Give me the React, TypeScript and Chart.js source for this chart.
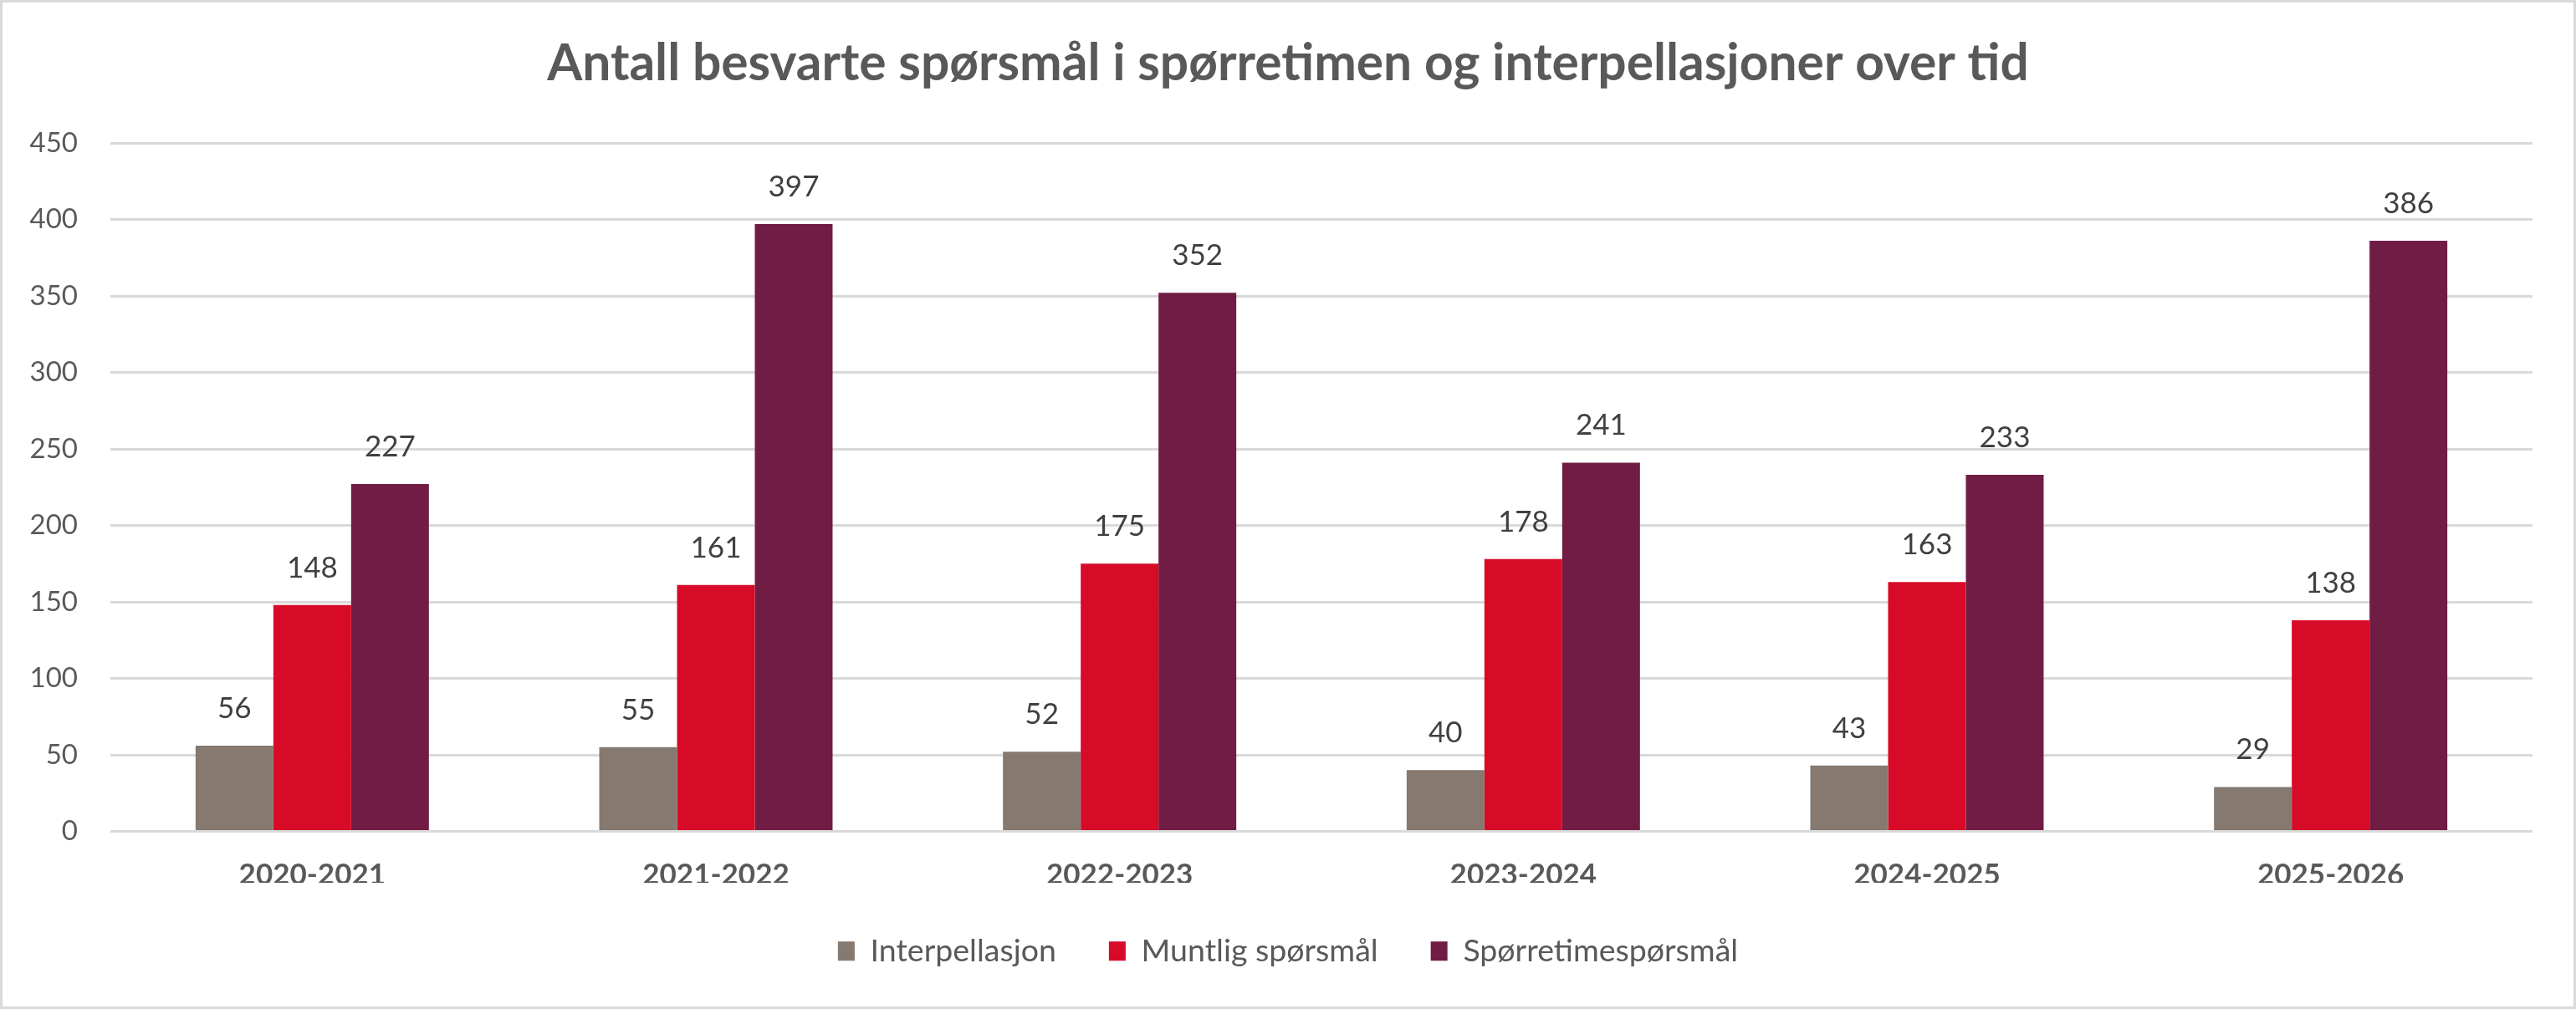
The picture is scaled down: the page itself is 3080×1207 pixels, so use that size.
import { useEffect, useRef } from "react";
import { Chart, registerables } from "chart.js";

Chart.register(...registerables);

// Sessions (stortingsår)
const seasons = ["2020-2021", "2021-2022", "2022-2023", "2023-2024", "2024-2025", "2025-2026"];

// Answered questions per session
const interpellasjon = [56, 55, 52, 40, 43, 29];
const muntligSporsmal = [148, 161, 175, 178, 163, 138];
const sporretimesporsmal = [227, 397, 352, 241, 233, 386];

const seriesNames = ["Interpellasjon", "Muntlig spørsmål", "Spørretimespørsmål"];
const seriesColors = ["#857970", "#D70A28", "#701C44"];

const yMax = 450;
const yStep = 50;

const FONT = "Lato, 'Open Sans', sans-serif";

// Value labels above each bar
const valueLabels = {
  id: "valueLabels",
  afterDatasetsDraw(chart: any) {
    const ctx = chart.ctx;
    ctx.save();
    ctx.font = `35px ${FONT}`;
    ctx.fillStyle = "#404040";
    ctx.textAlign = "center";
    ctx.textBaseline = "alphabetic";
    chart.data.datasets.forEach((ds: any, di: number) => {
      const meta = chart.getDatasetMeta(di);
      meta.data.forEach((bar: any, i: number) => {
        ctx.fillText(String(ds.data[i]), bar.x, bar.y - 33);
      });
    });
    ctx.restore();
  },
};

// Thin frame around the whole chart
const frame = {
  id: "frame",
  afterDraw(chart: any) {
    const ctx = chart.ctx;
    ctx.save();
    ctx.strokeStyle = "#D9D9D9";
    ctx.lineWidth = 3;
    ctx.strokeRect(1.5, 1.5, chart.width - 3, chart.height - 3);
    ctx.restore();
  },
};

export default function App() {
  const canvasRef = useRef<HTMLCanvasElement | null>(null);

  useEffect(() => {
    const canvas = canvasRef.current;
    if (!canvas) return;
    const chart = new Chart(canvas, {
      type: "bar",
      data: {
        labels: seasons,
        datasets: [interpellasjon, muntligSporsmal, sporretimesporsmal].map((data, i) => ({
          label: seriesNames[i],
          data,
          backgroundColor: seriesColors[i],
          borderWidth: 0,
          categoryPercentage: 0.578,
          barPercentage: 1,
        })),
      },
      options: {
        responsive: false,
        animation: false,
        devicePixelRatio: 1,
        layout: { padding: { left: 0, right: 0, top: 0, bottom: 40.5 } },
        plugins: {
          title: {
            display: true,
            text: "Antall besvarte spørsmål i spørretimen og interpellasjoner over tid",
            color: "#595959",
            font: { family: FONT, size: 60.5, weight: "bold", lineHeight: 1.2 },
            padding: { top: 40, bottom: 58.4 },
          },
          legend: {
            position: "bottom",
            labels: {
              color: "#595959",
              font: { family: FONT, size: 37.5 },
              boxWidth: 20,
              boxHeight: 23,
              padding: 63,
            },
          },
          tooltip: { enabled: false },
        },
        scales: {
          x: {
            grid: { display: false, drawTicks: false },
            border: { display: false },
            ticks: {
              color: "#595959",
              font: { family: FONT, size: 35, weight: "bold", lineHeight: 1.2 },
              padding: 31,
            },
            afterFit(scale: any) {
              scale.height = 61.5;
            },
          },
          y: {
            min: 0,
            max: yMax,
            grid: { color: "#D9D9D9", lineWidth: 3, drawTicks: false },
            border: { display: false },
            ticks: {
              stepSize: yStep,
              color: "#595959",
              font: { family: FONT, size: 33 },
              padding: 39,
            },
            afterFit(scale: any) {
              scale.width = 132;
            },
          },
          // empty right-hand margin so title and legend centre on the full width
          yRight: {
            position: "right",
            min: 0,
            max: yMax,
            grid: { display: false, drawTicks: false },
            border: { display: false },
            ticks: { display: false },
            afterFit(scale: any) {
              scale.width = 52;
            },
          },
        },
      },
      plugins: [valueLabels, frame],
    });
    return () => chart.destroy();
  }, []);

  return (
    <div style={{ position: "fixed", left: 0, top: 0, width: 3080, height: 1207, background: "#fff" }}>
      <canvas ref={canvasRef} width={3080} height={1207} style={{ display: "block" }} />
    </div>
  );
}
